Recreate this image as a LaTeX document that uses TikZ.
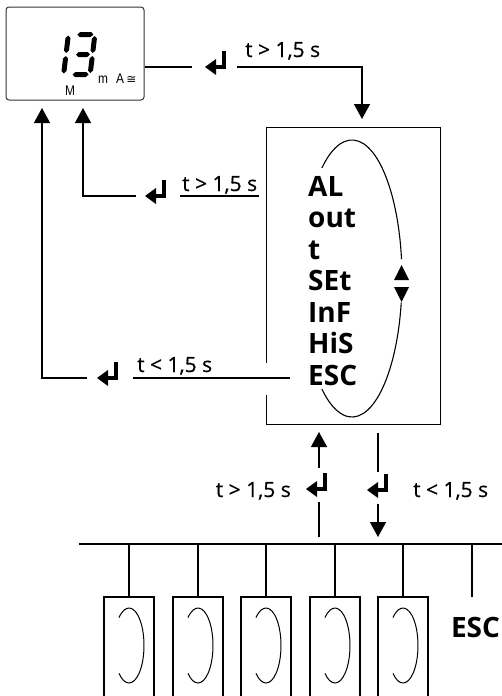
\documentclass[tikz,border=0pt]{standalone}
\usepackage{fontspec}
\setmainfont{Open Sans}
\newfontfamily\lblfont[FakeBold=0.5]{Open Sans}
\newfontfamily\lcdfont[FakeStretch=0.85]{Liberation Sans}
\newfontfamily\symfont{DejaVu Sans}
\usetikzlibrary{arrows.meta, calc, positioning}

% Doan LED (ngang va doc)
\newcommand\hseg[3]{\fill (#1,#3) -- (#1+2.5,#3-2.5) -- (#2-2.5,#3-2.5) -- (#2,#3) -- (#2-2.5,#3+2.5) -- (#1+2.5,#3+2.5) -- cycle;}
\newcommand\vseg[3]{\fill (#1,#2) -- (#1+2.5,#2+2.5) -- (#1+2.5,#3-2.5) -- (#1,#3) -- (#1-2.5,#3-2.5) -- (#1-2.5,#2+2.5) -- cycle;}

\tikzset{
    conn/.style={line width=1.3pt},
    arr/.style={conn, -{Triangle[width=16pt,length=15pt]}},
    item/.style={font=\bfseries\fontsize{28}{30}\selectfont, inner sep=0pt},
    tlabel/.style={font=\lblfont\fontsize{21}{23}\selectfont, inner sep=0pt},
    lcd/.style={font=\lcdfont\fontsize{14}{14}\selectfont, inner sep=0pt},
    enter/.pic={
        \fill (0,0) -- (11,-8) -- (11,8) -- cycle;
        \fill (9,-2.2) rectangle (21,2.2);
        \fill (16.6,-16) rectangle (21,2.2);
    }
}

\begin{document}
\begin{tikzpicture}[x=1pt, y=-1pt]
    \useasboundingbox (0,0) rectangle (502,696);

    % Man hinh hien thi
    \node[draw=black!80, line width=1pt, rounded corners=3pt, minimum width=138pt,
          minimum height=93pt, inner sep=0pt] (disp) at (75,53.5) {};
    \begin{scope}[shift={(66,54.5)}, xslant=0.12]
        \vseg{0}{-19}{-1.5} \vseg{0}{1.5}{19}
    \end{scope}
    \begin{scope}[shift={(83,54.5)}, xslant=0.12]
        \hseg{-8}{8}{-20} \hseg{-7}{7}{0} \hseg{-8}{8}{20}
        \vseg{9.5}{-18.5}{-1.5} \vseg{9.5}{1.5}{18.5}
    \end{scope}
    \node[lcd, anchor=base west] (unit) at (98,83) {m};
    \node[lcd, anchor=base west] (mode) at (116,83) {A\,{\symfont\fontsize{12}{12}\selectfont ≅}};
    \node[lcd, anchor=base west] (mem) at (65,95) {M};

    % Khung menu (khuyet o canh trai)
    \node[minimum width=173pt, minimum height=296pt, inner sep=0pt] (menu) at (353.5,276) {};
    \draw[conn] ([yshift=-87pt]menu.west) -- (menu.north west) -- (menu.north east)
        -- (menu.south east) -- (menu.south west) -- ([yshift=-119pt]menu.west);

    % Cac muc trong menu
    \foreach \txt [count=\i] in {AL,out,t,SEt,InF,HiS,ESC}
        \node[item, anchor=base west] (m\i) at (308,164.5+31.5*\i) {\txt};

    % Vong elip va mui ten len/xuong
    \coordinate (ell) at (352,278.5);
    \draw[line width=1.1pt] (ell) ++(-127:50 and 138.5) arc[start angle=-127, end angle=-8, x radius=50, y radius=138.5];
    \draw[line width=1.1pt] (ell) ++(10:50 and 138.5) arc[start angle=10, end angle=127, x radius=50, y radius=138.5];
    \fill (401.5,265) -- (409,280) -- (394,280) -- cycle;
    \fill (394,287) -- (409,287) -- (401.5,302) -- cycle;

    % Duong tu man hinh vao menu
    \draw[conn] (disp.east |- 0,67) -- (192,67);
    \pic at (205,67) {enter};
    \draw[arr] (237,67) -| (362,119);
    \node[tlabel, anchor=base west] (lab1) at (245,57) {t > 1,5 s};

    % Quay ve man hinh (t > 1,5 s)
    \draw[conn] (259,196) -- (180,196);
    \pic at (145,196) {enter};
    \draw[arr] (136,196) -| (83,108);
    \node[tlabel, anchor=base west] (lab2) at (182,191) {t > 1,5 s};

    % Quay ve man hinh tu ESC (t < 1,5 s)
    \draw[conn] (290,378) -- (133,378);
    \pic at (97,378) {enter};
    \draw[arr] (87,378) -| (42,108);
    \node[tlabel, anchor=base west] (lab3) at (137,372) {t < 1,5 s};

    % Hai mui ten giua menu va thanh ngang
    \draw[conn] (319,537) -- (319,502);
    \pic at (306,489) {enter};
    \draw[arr] (319,468) -- (319,432);
    \node[tlabel, anchor=base east] (lab4) at (291,497) {t > 1,5 s};
    \draw[conn] (378,433) -- (378,472);
    \pic at (367,490) {enter};
    \draw[arr] (378,504) -- (378,537);
    \node[tlabel, anchor=base west] (lab5) at (413,497) {t < 1,5 s};

    % Thanh ngang va cac o con
    \draw[conn] (79,544) -- (502,544);
    \foreach \x in {129,198,266,335,403} {
        \draw[conn] (\x,544) -- (\x,597);
        \draw[conn] (\x-25,696) |- (\x+25,597) -- (\x+25,696);
        \draw[line width=1pt] (\x,645.5) ++(-132:15 and 37.5)
            arc[start angle=-132, end angle=132, x radius=15, y radius=37.5];
    }
    \draw[conn] (472,544) -- (472,597);
    \node[item, anchor=base] (esc) at (475.5,637) {ESC};
\end{tikzpicture}
\end{document}
